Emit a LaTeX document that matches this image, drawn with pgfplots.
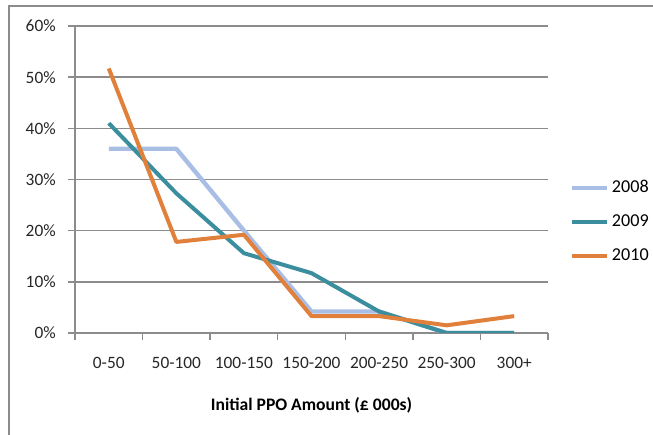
\documentclass[border=0pt]{standalone}
\usepackage{pgfplots}
\pgfplotsset{compat=1.18}
\usepackage{fontspec}
\setmainfont{Carlito}
\definecolor{c2008}{HTML}{A9BEE4}
\definecolor{c2009}{HTML}{3A8E9E}
\definecolor{c2010}{HTML}{E0803A}
\definecolor{gridgray}{HTML}{8C8C8C}
\begin{document}
\fontsize{12.8}{15}\selectfont
\begin{tikzpicture}[x=0.75pt,y=0.75pt]
\useasboundingbox (-75,-102) rectangle (578,333);
\begin{axis}[
  at={(0,0)}, anchor=south west, scale only axis,
  width=354.75pt, height=230.25pt,
  xmin=0, xmax=7, ymin=0, ymax=60,
  axis lines=left,
  axis line style={gridgray, line width=1.1pt, -},
  tick align=outside,
  major tick length=5pt,
  tick style={gridgray, line width=1.1pt},
  xtick={0,...,7}, xticklabels={},
  extra x ticks={0.5,1.5,...,6.5},
  extra x tick labels={0-50,50-100,100-150,150-200,200-250,250-300,300+},
  extra x tick style={major tick length=0pt, grid=none,
    xticklabel style={yshift=-13.5pt}},
  ytick={0,10,...,60},
  yticklabel={\pgfmathprintnumber{\tick}\%},
  yticklabel style={xshift=-5pt},
  ymajorgrids,
  major grid style={gridgray, line width=1.1pt},
  /pgf/number format/assume math mode=true,
  tick label style={font=\fontsize{13}{15}\selectfont, text=black!85},
  xlabel={\textbf{Initial PPO Amount (£ 000s)}},
  xlabel style={at={(axis description cs:0.5,-0.235)}, anchor=center,
    font=\fontsize{13.2}{15}\selectfont},
  legend style={at={(axis description cs:1.0465,0.362)}, anchor=west,
    draw=none, fill=none, row sep=10.6pt, font=\fontsize{13.6}{15}\selectfont,
    inner sep=0pt},
  legend cell align=left,
  legend image code/.code={\draw[#1] (0pt,0pt) -- (26pt,0pt);},
  every axis plot/.append style={line width=3pt, line join=round, no markers},
]
\addplot[c2008, line width=3.3pt] coordinates {(0.5,36) (1.5,36) (2.5,20) (3.5,4.2) (4.5,4.2) (5.5,0) (6.5,0)};
\addlegendentry{2008}
\addplot[c2009] coordinates {(0.5,41) (1.5,27.3) (2.5,15.6) (3.5,11.7) (4.5,4.2) (5.5,0) (6.5,0)};
\addlegendentry{2009}
\addplot[c2010] coordinates {(0.5,51.7) (1.5,17.8) (2.5,19.2) (3.5,3.3) (4.5,3.3) (5.5,1.5) (6.5,3.3)};
\addlegendentry{2010}
\end{axis}
\draw[gridgray, line width=1.5pt] (-66,-102) -- (-66,327) -- (578,327);
\end{tikzpicture}
\end{document}
